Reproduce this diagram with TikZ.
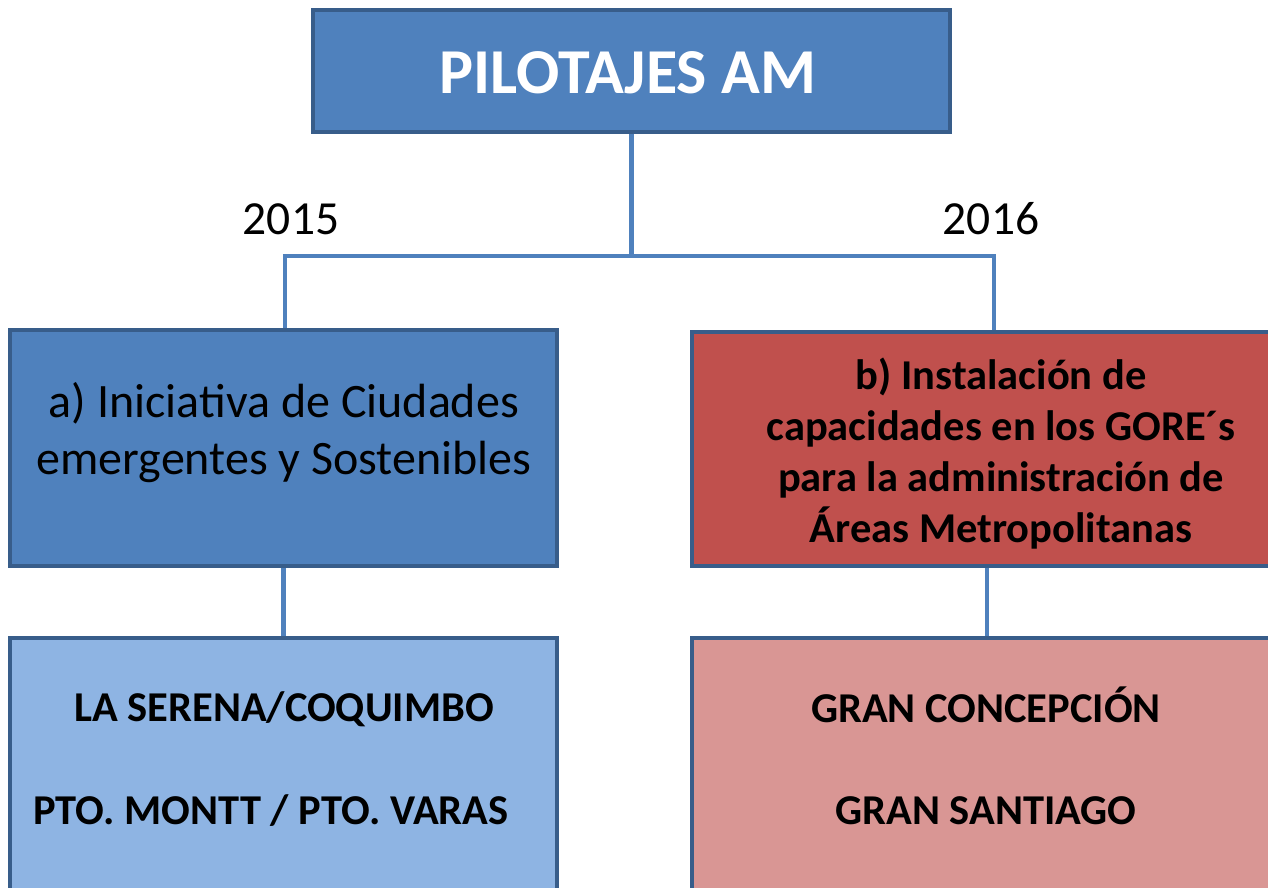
\documentclass[tikz,border=0pt]{standalone}
\usepackage{fontspec}
\setmainfont{Carlito}
\definecolor{accblue}{HTML}{4F81BD}
\definecolor{edgeblue}{HTML}{385D8A}
\definecolor{accred}{HTML}{C0504D}
\definecolor{lightblue}{HTML}{8EB4E3}
\definecolor{lightred}{HTML}{D99694}
\begin{document}
\begin{tikzpicture}[x=1pt,y=-1pt,
  box/.style={draw=edgeblue, line width=4pt, rectangle, inner sep=0pt},
  conn/.style={draw=accblue, line width=4.5pt},
  lbl/.style={inner sep=0pt, align=center, text=black},
  citylbl/.style={lbl, font=\fontsize{42.5}{51}\bfseries\selectfont},
  yearlbl/.style={lbl, font=\fontsize{47.5}{57}\selectfont}]
\useasboundingbox (0,0) rectangle (1268,888);
\clip (0,0) rectangle (1268,888);
\fill[white] (0,0) rectangle (1268,888);
% boxes
\node[box, fill=accblue, minimum width=637pt, minimum height=122pt] (top) at (631.5,71) {};
\node[box, fill=accblue, minimum width=547pt, minimum height=236pt] (a) at (283.5,448) {};
\node[box, fill=accred, minimum width=616pt, minimum height=234pt] (b) at (1000,449) {};
\node[box, fill=lightblue, minimum width=547pt, minimum height=300pt] (c) at (283.5,788) {};
\node[box, fill=lightred, minimum width=590pt, minimum height=300pt] (d) at (987,788) {};
% texts
\node[lbl, text=white, font=\fontsize{64}{76}\bfseries\selectfont] (toptxt) at (628,73) {PILOTAJES AM};
\node[lbl, font=\fontsize{48}{57}\selectfont] (atxt) at (284,433) {a) Iniciativa de Ciudades\\emergentes y Sostenibles};
\node[lbl, font=\fontsize{42.5}{51}\bfseries\selectfont] (btxt) at (1001,454) {b) Instalación de\\capacidades en los GORE´s\\para la administración de\\Áreas Metropolitanas};
\node[citylbl] (c1) at (284,709) {LA SERENA/COQUIMBO};
\node[citylbl] (c2) at (271,811) {PTO. MONTT / PTO. VARAS};
\node[citylbl] (d1) at (986,705) {GRAN CONCEPCIÓN};
\node[citylbl] (d2) at (986,811) {GRAN SANTIAGO};
% year labels
\node[yearlbl] (y15) at (291,219) {2015};
\node[yearlbl] (y16) at (991,219) {2016};
% connectors
\coordinate (hl) at (285,256);
\coordinate (hr) at (994,256);
\draw[conn] (top.south) -- (top.south |- hl);
\draw[conn] ([xshift=-2.25pt]hl) -- ([xshift=2.25pt]hr);
\draw[conn] (hl) -- (hl |- a.north);
\draw[conn] (hr) -- (hr |- b.north);
\draw[conn] (a.south) -- (c.north);
\draw[conn] (d.north |- b.south) -- (d.north);
\end{tikzpicture}
\end{document}
